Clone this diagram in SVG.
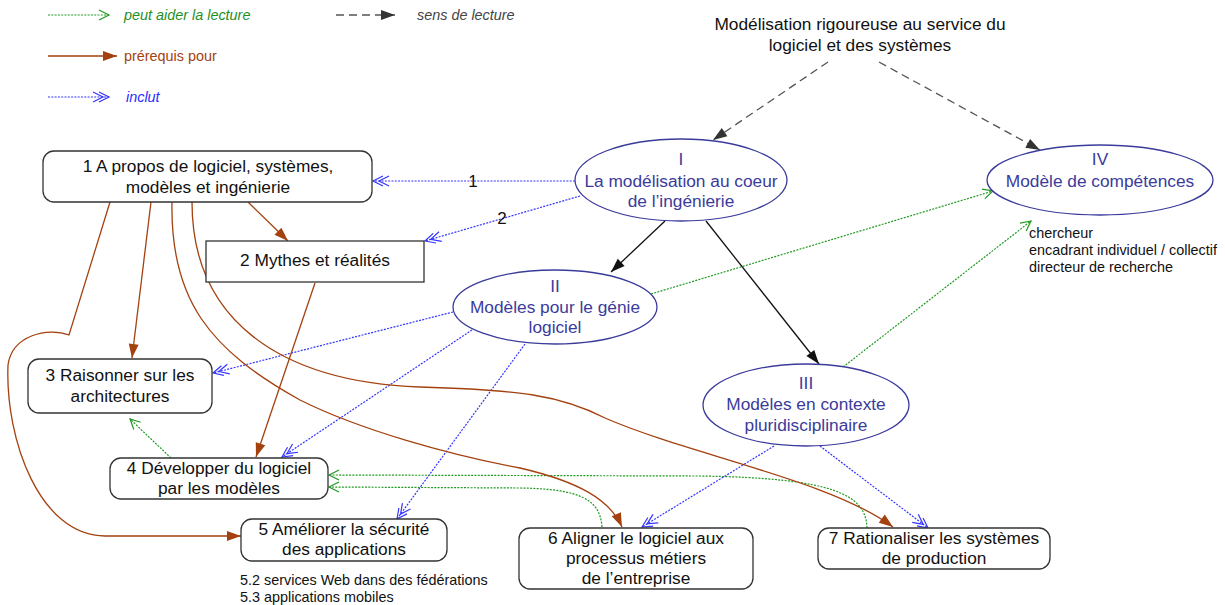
<svg xmlns="http://www.w3.org/2000/svg" width="1225" height="605" viewBox="0 0 1225 605">
<style>
text{font-family:"Liberation Sans",Arial,sans-serif;}
.nt{font-size:17.3px;fill:#111;text-anchor:middle;}
.et{font-size:17.3px;fill:#3b3b9c;text-anchor:middle;}
.box{fill:#fff;stroke:#333;stroke-width:1.3;}
.ell{fill:#fff;stroke:#3b3b9c;stroke-width:1.3;}
.ann{font-size:14.4px;fill:#111;}
.leg{font-size:14.4px;}
.blue{fill:none;stroke:#3535ff;stroke-width:1.2;stroke-dasharray:2 1.3;marker-end:url(#mBlue);}
.green{fill:none;stroke:#229922;stroke-width:1.2;stroke-dasharray:2 1.3;marker-end:url(#mGreen);}
.brown{fill:none;stroke:#a3410f;stroke-width:1.3;marker-end:url(#mBrown);}
.black{fill:none;stroke:#111;stroke-width:1.3;marker-end:url(#mBlack);}
.dash{fill:none;stroke:#555;stroke-width:1.3;stroke-dasharray:8 5;marker-end:url(#mGray);}
</style>
<defs>
<marker id="mBlue" markerUnits="userSpaceOnUse" viewBox="0 0 20 12" markerWidth="20" markerHeight="12" refX="18" refY="6" orient="auto" overflow="visible">
<path d="M8,1 L18,6 L8,11 M2,1 L12,6 L2,11" fill="none" stroke="#3535ff" stroke-width="1.2"/>
</marker>
<marker id="mGreen" markerUnits="userSpaceOnUse" viewBox="0 0 16 12" markerWidth="16" markerHeight="12" refX="14" refY="6" orient="auto" overflow="visible">
<path d="M4,1 L14,6 L4,11" fill="none" stroke="#229922" stroke-width="1.2"/>
</marker>
<marker id="mBrown" markerUnits="userSpaceOnUse" viewBox="0 0 14 10" markerWidth="14" markerHeight="10" refX="14" refY="5" orient="auto" overflow="visible">
<path d="M0,0 L14,5 L0,10 z" fill="#a3410f"/>
</marker>
<marker id="mBlack" markerUnits="userSpaceOnUse" viewBox="0 0 14 10" markerWidth="14" markerHeight="10" refX="14" refY="5" orient="auto" overflow="visible">
<path d="M0,0 L14,5 L0,10 z" fill="#111"/>
</marker>
<marker id="mGray" markerUnits="userSpaceOnUse" viewBox="0 0 14 10" markerWidth="14" markerHeight="10" refX="14" refY="5" orient="auto" overflow="visible">
<path d="M0,0 L14,5 L0,10 z" fill="#333"/>
</marker>
</defs>
<rect width="1225" height="605" fill="#fff"/>

<g id="legend">
<line class="green" x1="48" y1="15" x2="109" y2="15"/>
<text class="leg" x="124" y="20" font-style="italic" fill="#1f8f1f">peut aider la lecture</text>
<line class="dash" x1="336" y1="15" x2="395" y2="15"/>
<text class="leg" x="417" y="20" font-style="italic" fill="#444">sens de lecture</text>
<line class="brown" x1="48" y1="56" x2="117" y2="56"/>
<text class="leg" x="124" y="61" fill="#a3410f">prérequis pour</text>
<line class="blue" x1="48" y1="97" x2="109" y2="97"/>
<text class="leg" x="126" y="102" font-style="italic" fill="#2b2bff">inclut</text>
</g>

<g id="connectors">
<path class="dash" d="M828,62 L713,140"/>
<path class="dash" d="M879,62 L1040,150"/>
<path class="black" d="M665,221 L611,272"/>
<path class="black" d="M706,221 L819,364"/>
<path class="blue" d="M575,181 L373,181"/>
<path class="blue" d="M580,196 L425,241"/>
<path class="blue" d="M453,312 L213,373"/>
<path class="blue" d="M472,330 L282,457"/>
<path class="blue" d="M525,344 L397,519"/>
<path class="blue" d="M774,446 L642,527"/>
<path class="blue" d="M820,446 L928,528"/>
<path class="green" d="M651,294 L993,191"/>
<path class="green" d="M843,367 L1031,221"/>
<path class="green" d="M171,458 L130,419"/>
<path class="green" d="M867,528 C866,495 835,478 700,476 L329,475"/>
<path class="green" d="M602,527 C600,500 582,489 520,488 L329,487"/>
<path class="brown" d="M248,202 L288,241"/>
<path class="brown" d="M151,202 L132,358"/>
<path class="brown" d="M315,283 L256,457"/>
<path class="brown" d="M110,202 L69,335 C48,327 12,335 8,365 C5,440 40,536 105,536 L241,536"/>
<path class="brown" d="M172,202 C170,300 210,350 300,400 C360,430 450,455 520,468 C580,482 610,500 622,527"/>
<path class="brown" d="M192,202 C192,320 280,382 420,387 C520,390 560,395 605,418 C690,455 830,480 893,527"/>
<text x="473" y="187" font-size="17" fill="#111" text-anchor="middle">1</text>
<text x="502" y="224" font-size="17" fill="#111" text-anchor="middle">2</text>
</g>

<g id="title">
<text class="nt" x="860" y="30">Modélisation rigoureuse au service du</text>
<text class="nt" x="860" y="51">logiciel et des systèmes</text>
</g>

<g id="nodeI">
<ellipse class="ell" cx="681" cy="180" rx="106" ry="41"/>
<text class="et" x="681" y="165">I</text>
<text class="et" x="681" y="187">La modélisation au coeur</text>
<text class="et" x="681" y="207">de l’ingénierie</text>
</g>
<g id="nodeII">
<ellipse class="ell" cx="555" cy="307" rx="102" ry="37"/>
<text class="et" x="555" y="292">II</text>
<text class="et" x="555" y="313">Modèles pour le génie</text>
<text class="et" x="555" y="333">logiciel</text>
</g>
<g id="nodeIII">
<ellipse class="ell" cx="806" cy="405" rx="103" ry="41"/>
<text class="et" x="806" y="389">III</text>
<text class="et" x="806" y="410">Modèles en contexte</text>
<text class="et" x="806" y="431">pluridisciplinaire</text>
</g>
<g id="nodeIV">
<ellipse class="ell" cx="1100" cy="180" rx="113" ry="35"/>
<text class="et" x="1100" y="165">IV</text>
<text class="et" x="1100" y="187">Modèle de compétences</text>
</g>
<g id="roles">
<text class="ann" x="1029" y="238">chercheur</text>
<text class="ann" x="1029" y="255">encadrant individuel / collectif</text>
<text class="ann" x="1029" y="272">directeur de recherche</text>
</g>

<g id="node1">
<rect class="box" x="43" y="151" width="329" height="51" rx="11"/>
<text class="nt" x="208" y="172">1 A propos de logiciel, systèmes,</text>
<text class="nt" x="208" y="193">modèles et ingénierie</text>
</g>
<g id="node2">
<rect class="box" x="206" y="241" width="218" height="41"/>
<text class="nt" x="315" y="266">2 Mythes et réalités</text>
</g>
<g id="node3">
<rect class="box" x="28" y="359" width="184" height="54" rx="11"/>
<text class="nt" x="120" y="381">3 Raisonner sur les</text>
<text class="nt" x="120" y="402">architectures</text>
</g>
<g id="node4">
<rect class="box" x="110" y="458" width="218" height="41" rx="11"/>
<text class="nt" x="219" y="474">4 Développer du logiciel</text>
<text class="nt" x="219" y="494">par les modèles</text>
</g>
<g id="node5">
<rect class="box" x="241" y="519" width="206" height="42" rx="11"/>
<text class="nt" x="344" y="535">5 Améliorer la sécurité</text>
<text class="nt" x="344" y="555">des applications</text>
<text class="ann" x="240" y="585">5.2 services Web dans des fédérations</text>
<text class="ann" x="240" y="602">5.3 applications mobiles</text>
</g>
<g id="node6">
<rect class="box" x="519" y="528" width="234" height="61" rx="11"/>
<text class="nt" x="636" y="544">6 Aligner le logiciel aux</text>
<text class="nt" x="636" y="564">processus métiers</text>
<text class="nt" x="636" y="584">de l’entreprise</text>
</g>
<g id="node7">
<rect class="box" x="818" y="528" width="232" height="41" rx="11"/>
<text class="nt" x="934" y="544">7 Rationaliser les systèmes</text>
<text class="nt" x="934" y="564">de production</text>
</g>
</svg>
